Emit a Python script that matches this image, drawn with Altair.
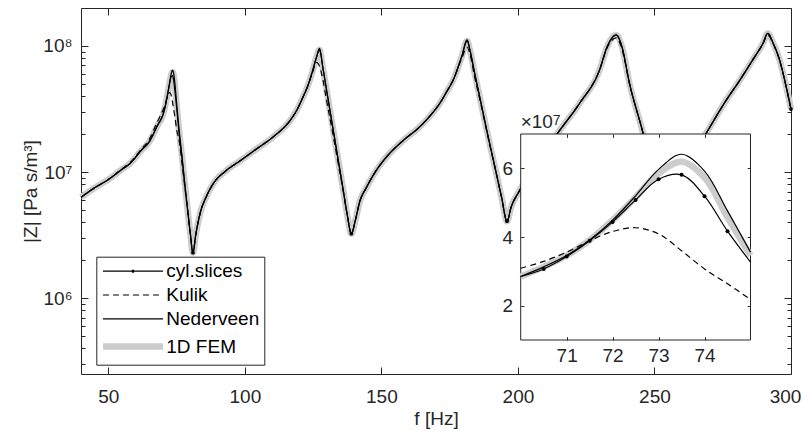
import altair as alt
import pandas as pd

# ---------------- data ----------------
f_main = [40, 45, 50, 55, 58, 62, 65, 68, 70, 70.5,
          71, 71.5, 72, 72.5, 73, 73.5, 74, 74.5, 75,
          76, 77, 78, 79, 80, 81, 82, 83.6, 86, 88.5,
          93, 98.3, 104, 110.5, 116.6, 119, 121.4, 123, 124.5, 126.3,
          127.3, 128.7, 130, 132, 134, 136, 137.5, 139, 140.5, 142,
          144.6, 148, 151.9, 158, 164.1, 168, 171.4, 174, 176.3, 179.4,
          181.4, 182.4, 184, 186.5, 189, 191.8, 194, 196, 197.5, 200.7,
          205, 210, 215.3, 222.6, 229.9, 232.7, 236, 238, 240.9, 245.8,
          249, 253, 256, 260, 264, 269, 276.3, 281, 286, 289.7,
          291.5, 293.5, 295.8, 298, 300]

# |Z| in units of 1e6 Pa s/m^3
z_nederveen = [6.31, 7.50, 8.71, 10.5, 11.7, 14.8, 17.4, 23.4, 28.5, 31.3,
               34.6, 39.1, 44.9, 52.0, 59.7, 64.1, 59.2, 47.6, 35.6,
               20.9, 13.2, 8.13, 5.13, 3.31, 2.29, 3.16, 4.68, 6.46, 8.13,
               10.2, 12.3, 15.1, 19.1, 25.7, 30.9, 39.8, 47.9, 60.3, 82.2,
               95.5, 64.6, 43.7, 24.0, 13.2, 7.24, 4.57, 3.24, 4.17, 5.75,
               7.59, 10.2, 13.2, 17.8, 22.9, 28.2, 35.1, 43.7, 53.7, 82.2,
               111.7, 93.3, 63.1, 35.1, 19.5, 10.4, 6.31, 4.07, 5.25, 7.19,
               10.5, 14.8, 21.4, 35.1, 64.6, 98.9, 122.2, 100.0, 50.1, 20.4,
               10.5, 5.01, 7.24, 10.0, 13.5, 20.4, 37.2, 52.5, 77.6, 104.7,
               125.9, 104.7, 77.6, 50.1, 31.6]

z_kulik = [6.31, 7.50, 8.71, 10.6, 11.9, 15.1, 18.2, 25.1, 30.9, 32.9,
           35.6, 38.9, 41.6, 42.7, 40.9, 36.0, 30.7, 26.4, 21.8,
           17.4, 11.5, 7.59, 5.01, 3.31, 2.29, 3.16, 4.68, 6.46, 8.13,
           10.2, 12.3, 15.1, 19.1, 25.7, 30.9, 39.8, 47.9, 58.9, 74.1,
           69.2, 52.5, 36.3, 21.4, 12.3, 7.08, 4.57, 3.24, 4.17, 5.75,
           7.59, 10.2, 13.2, 17.8, 22.9, 28.2, 35.1, 43.7, 53.7, 79.4,
           97.7, 87.1, 58.9, 33.9, 19.1, 10.4, 6.31, 4.07, 5.25, 7.19,
           10.5, 14.8, 21.4, 35.1, 64.6, 97.0, 116.0, 96.0, 49.5, 20.4,
           10.5, 5.01, 7.24, 10.0, 13.5, 20.4, 37.2, 52.5, 77.6, 103.5,
           122.0, 103.5, 76.8, 49.5, 31.2]

z_fem = [6.31, 7.50, 8.71, 10.5, 11.7, 14.8, 17.4, 23.4, 28.5, 31.3,
         34.6, 39.1, 44.9, 51.6, 58.5, 61.9, 57.3, 45.7, 34.6,
         20.4, 13.2, 8.13, 5.13, 3.31, 2.29, 3.16, 4.68, 6.46, 8.13,
         10.2, 12.3, 15.1, 19.1, 25.7, 30.9, 39.8, 47.9, 60.3, 82.2,
         93.3, 64.6, 43.7, 24.0, 13.2, 7.24, 4.57, 3.24, 4.17, 5.75,
         7.59, 10.2, 13.2, 17.8, 22.9, 28.2, 35.1, 43.7, 53.7, 82.2,
         109.6, 93.3, 63.1, 35.1, 19.5, 10.4, 6.31, 4.07, 5.25, 7.19,
         10.5, 14.8, 21.4, 35.1, 64.6, 98.9, 122.2, 100.0, 50.1, 20.4,
         10.5, 5.01, 7.24, 10.0, 13.5, 20.4, 37.2, 52.5, 77.6, 104.7,
         125.9, 104.7, 77.6, 50.1, 31.6]

z_cyl = [6.31, 7.50, 8.71, 10.5, 11.7, 14.8, 17.4, 23.4, 28.5, 30.7,
         34.3, 38.9, 44.4, 50.8, 56.8, 58.1, 51.9, 41.7, 32.7,
         19.5, 12.9, 8.0, 5.10, 3.31, 2.29, 3.16, 4.68, 6.46, 8.13,
         10.2, 12.3, 15.1, 19.1, 25.7, 30.9, 39.8, 47.9, 60.3, 82.2,
         93.0, 64.6, 43.7, 24.0, 13.2, 7.24, 4.57, 3.24, 4.17, 5.75,
         7.59, 10.2, 13.2, 17.8, 22.9, 28.2, 35.1, 43.7, 53.7, 82.2,
         109.6, 93.3, 63.1, 35.1, 19.5, 10.4, 6.31, 4.07, 5.25, 7.19,
         10.5, 14.8, 21.4, 35.1, 64.6, 98.9, 122.2, 100.0, 50.1, 20.4,
         10.5, 5.01, 7.24, 10.0, 13.5, 20.4, 37.2, 52.5, 77.6, 104.7,
         125.9, 104.7, 77.6, 50.1, 31.6]

cyl_marker_f_main = [81, 139, 196, 300]
cyl_marker_f_inset = [70.5, 71, 71.5, 72, 72.5, 73, 73.5, 74, 74.5]

series_order = ["cyl.slices", "Kulik", "Nederveen", "1D FEM"]
x_ticks_main = [50, 100, 150, 200, 250, 300]
y_ticks_main = [1e6, 1e7, 1e8]
y_minor_main = [3e5, 4e5, 5e5, 6e5, 7e5, 8e5, 9e5,
                2e6, 3e6, 4e6, 5e6, 6e6, 7e6, 8e6, 9e6,
                2e7, 3e7, 4e7, 5e7, 6e7, 7e7, 8e7, 9e7]
x_ticks_inset = [71, 72, 73, 74]
y_ticks_inset = [2e7, 4e7, 6e7]
x_domain_main = [40, 300]
y_domain_main = [2.5e5, 2e8]
x_domain_inset = [70, 75]
y_domain_inset = [1e7, 7e7]
inset_exponent_base = "×10"
inset_exponent_power = "7"

# ---------------- layout / style ----------------
W, H = 710, 366
IX0, IX1, IYT, IYB = 439.7, 669.5, 126, 332
FONT = "Liberation Sans"
FS = 19
AX = "#262626"
GRAY = "#cccccc"

for arr in (z_nederveen, z_kulik, z_fem, z_cyl):
    assert len(arr) == len(f_main)

series_values = {"1D FEM": z_fem, "Kulik": z_kulik, "Nederveen": z_nederveen, "cyl.slices": z_cyl}
df = pd.DataFrame([{"f": f, "z": v * 1e6, "series": s}
                   for s, vals in series_values.items() for f, v in zip(f_main, vals)])
df_in = df[(df.f >= 70) & (df.f <= 75)]
cyl_df = df[df.series == "cyl.slices"]
pts_main = cyl_df[cyl_df.f.isin(cyl_marker_f_main)]
pts_in = cyl_df[cyl_df.f.isin(cyl_marker_f_inset)]

xs_main = alt.Scale(domain=x_domain_main, nice=False, zero=False)
ys_main = alt.Scale(type="log", domain=y_domain_main, nice=False)
xs_in = alt.Scale(domain=x_domain_inset, range=[IX0, IX1], nice=False, zero=False)
ys_in = alt.Scale(domain=y_domain_inset, range=[IYB, IYT], nice=False, zero=False)

LINE_PATH = "M-1.56,0H10.44"
DOT_PATH = LINE_PATH + "M4.64,0A0.2,0.2,0,1,1,4.24,0A0.2,0.2,0,1,1,4.64,0"

color_scale = alt.Scale(domain=series_order, range=["black", "black", "black", GRAY])
dash_scale = alt.Scale(domain=series_order, range=[[1, 0], [6, 4], [1, 0], [1, 0]])
width_scale = alt.Scale(type="ordinal", domain=series_order, range=[1.2, 1.2, 1.2, 6.5])
shape_scale = alt.Scale(domain=series_order, range=[DOT_PATH, LINE_PATH, LINE_PATH, LINE_PATH])

legend = alt.Legend(
    title=None, orient="none", legendX=15.3, legendY=248.7, zindex=1,
    fillColor="white", strokeColor=AX, padding=5, rowPadding=3.8,
    symbolType=LINE_PATH, symbolSize=100, labelOffset=46, symbolOpacity=1,
    labelFont=FONT, labelFontSize=FS, labelColor="black", labelLimit=300,
)

common_axis = dict(labelFont=FONT, labelFontSize=FS, labelColor=AX, titleFont=FONT,
                   titleFontSize=FS, titleColor=AX, titleFontWeight="normal", grid=False,
                   labelFlush=False, labelOverlap=False)

x_main_axis = alt.Axis(values=x_ticks_main, ticks=False, tickSize=0, domain=False, title="f [Hz]",
                       format="d", labelPadding=13, titlePadding=3,
                       labelOffset={"condition": {"test": "datum.value >= 300", "value": -6}, "value": 0},
                       **common_axis)
y_main_axis = alt.Axis(values=y_ticks_main, ticks=False, tickSize=0, domain=False, title="|Z| [Pa s/m³]",
                       labelExpr="datum.value < 5e6 ? '10⁶' : datum.value < 5e7 ? '10⁷' : '10⁸'",
                       labelPadding=9, titlePadding=2, **common_axis)


def main_line(name):
    return alt.Chart(df[df.series == name]).mark_line(interpolate="monotone").encode(
        x=alt.X("f:Q", scale=xs_main, axis=x_main_axis),
        y=alt.Y("z:Q", scale=ys_main, axis=y_main_axis),
        color=alt.Color("series:N", scale=color_scale, legend=legend),
        strokeDash=alt.StrokeDash("series:N", scale=dash_scale, legend=legend),
        strokeWidth=alt.StrokeWidth("series:O", scale=width_scale, legend=legend),
    )


main_pts = alt.Chart(pts_main).mark_circle(size=14, color="black", opacity=1).encode(
    x=alt.X("f:Q", scale=xs_main, axis=x_main_axis),
    y=alt.Y("z:Q", scale=ys_main, axis=y_main_axis),
)

# empty layer whose only job is to give the legend its symbol shapes
legend_shapes = alt.Chart(cyl_df).transform_filter("false").mark_point(filled=False, opacity=1).encode(
    x=alt.X("f:Q", scale=xs_main, axis=x_main_axis),
    y=alt.Y("z:Q", scale=ys_main, axis=y_main_axis),
    shape=alt.Shape("series:N", scale=shape_scale, legend=legend),
)

main_group = alt.layer(main_line("1D FEM"), main_line("Kulik"), main_line("Nederveen"),
                       main_line("cyl.slices"), main_pts, legend_shapes)


def tick_axis(orient, offset, values, size, z=0):
    return alt.Axis(orient=orient, offset=offset, values=values, labels=False, domain=False,
                    grid=False, ticks=True, tickSize=size, tickColor=AX, tickWidth=1,
                    title=None, zindex=z)


def tick_layer(xs, ys, x_axis, y_axis, xv, yv):
    d = pd.DataFrame({"f": [xv], "z": [yv]})
    return alt.Chart(d).mark_point(opacity=0).encode(
        x=alt.X("f:Q", scale=xs, axis=x_axis),
        y=alt.Y("z:Q", scale=ys, axis=y_axis),
    )


t1 = tick_layer(xs_main, ys_main, tick_axis("top", -H, x_ticks_main, 7),
                tick_axis("right", -W, y_ticks_main, 7), 40, 1e6)
t2 = tick_layer(xs_main, ys_main, tick_axis("bottom", -H, x_ticks_main, 7),
                tick_axis("left", -W, y_ticks_main, 7), 40, 1e6)
t3 = tick_layer(xs_main, ys_main, None, tick_axis("right", -W, y_minor_main, 4), 40, 1e6)
t4 = tick_layer(xs_main, ys_main, None, tick_axis("left", -W, y_minor_main, 4), 40, 1e6)

# ---------------- inset ----------------
x_in_axis = alt.Axis(orient="bottom", offset=-(H - IYB), values=x_ticks_inset, ticks=False, tickSize=0,
                     domain=False, title=None, labelPadding=6, zindex=1, **common_axis)
y_in_axis = alt.Axis(orient="left", offset=-IX0, values=y_ticks_inset, ticks=False, tickSize=0,
                     domain=False, title=None, labelExpr="format(datum.value / 1e7, 'd')",
                     labelPadding=8, zindex=1, **common_axis)

bg = alt.Chart(pd.DataFrame({"x0": [x_domain_inset[0]], "x1": [x_domain_inset[1]],
                             "y0": [y_domain_inset[0]], "y1": [y_domain_inset[1]]})).mark_rect(
    fill="white", stroke=AX, strokeWidth=1).encode(
    x=alt.X("x0:Q", scale=xs_in, axis=x_in_axis), x2="x1:Q",
    y=alt.Y("y0:Q", scale=ys_in, axis=y_in_axis), y2="y1:Q")


def inset_line(name, **style):
    return alt.Chart(df_in[df_in.series == name]).mark_line(interpolate="catmull-rom", **style).encode(
        x=alt.X("f:Q", scale=xs_in, axis=x_in_axis),
        y=alt.Y("z:Q", scale=ys_in, axis=y_in_axis),
    )


in_pts = alt.Chart(pts_in).mark_circle(size=16, color="black", opacity=1).encode(
    x=alt.X("f:Q", scale=xs_in, axis=x_in_axis),
    y=alt.Y("z:Q", scale=ys_in, axis=y_in_axis),
)

corner = pd.DataFrame({"f": [x_domain_inset[0]], "z": [y_domain_inset[1]],
                       "base": [inset_exponent_base], "power": [inset_exponent_power]})
exp_base = alt.Chart(corner).mark_text(
    align="left", baseline="alphabetic", dy=-6, dx=0, font=FONT, fontSize=FS, color=AX).encode(
    x=alt.X("f:Q", scale=xs_in, axis=x_in_axis),
    y=alt.Y("z:Q", scale=ys_in, axis=y_in_axis),
    text="base:N")
exp_power = alt.Chart(corner).mark_text(
    align="left", baseline="alphabetic", dy=-9, dx=32, font=FONT, fontSize=14, color=AX).encode(
    x=alt.X("f:Q", scale=xs_in, axis=x_in_axis),
    y=alt.Y("z:Q", scale=ys_in, axis=y_in_axis),
    text="power:N")

inset_group = alt.layer(
    bg,
    inset_line("1D FEM", color=GRAY, strokeWidth=6.5),
    inset_line("Kulik", color="black", strokeWidth=1.2, strokeDash=[6, 4]),
    inset_line("Nederveen", color="black", strokeWidth=1.2),
    inset_line("cyl.slices", color="black", strokeWidth=1.2),
    in_pts,
    exp_base,
    exp_power,
)

it1 = tick_layer(xs_in, ys_in, tick_axis("top", -IYB, x_ticks_inset, 3.3, 1),
                 tick_axis("right", IX0 - W, y_ticks_inset, 3.3, 1), 70, 2e7)
it2 = tick_layer(xs_in, ys_in, tick_axis("bottom", IYT - H, x_ticks_inset, 3.3, 1),
                 tick_axis("left", -IX1, y_ticks_inset, 3.3, 1), 70, 2e7)

chart = alt.layer(main_group, t1, t2, t3, t4, inset_group, it1, it2).resolve_scale(
    x="independent", y="independent"
).properties(
    width=W, height=H,
    padding={"left": 73, "top": 0, "right": 10, "bottom": 55},
    autosize=alt.AutoSizeParams(type="none"),
).configure_view(stroke=AX, strokeWidth=1)

chart.save("out.html", embed_options={"renderer": "svg", "actions": False})
